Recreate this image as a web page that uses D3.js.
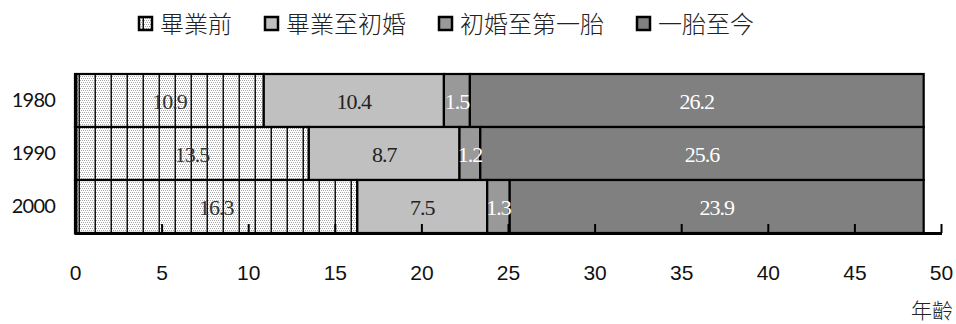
<!DOCTYPE html>
<html><head><meta charset="utf-8">
<script src="https://cdn.jsdelivr.net/npm/d3@7"></script>
<style>
html,body{margin:0;padding:0;background:#fff;}
svg{display:block;}
</style></head>
<body>
<svg id="chart" width="956" height="324"></svg>
<script>
// ---- data ----
const years = ["1980", "1990", "2000"];
const seriesNames = ["畢業前", "畢業至初婚", "初婚至第一胎", "一胎至今"];
const beforeGrad = [10.9, 13.5, 16.3];
const gradToMarriage = [10.4, 8.7, 7.5];
const marriageToFirst = [1.5, 1.2, 1.3];
const firstToNow = [26.2, 25.6, 23.9];
const xTicks = [0, 5, 10, 15, 20, 25, 30, 35, 40, 45, 50];
const xAxisTitle = "年齡";

const seriesValues = [beforeGrad, gradToMarriage, marriageToFirst, firstToNow];
const fills = ["url(#vstripe)", "#c0c0c0", "#999999", "#808080"];
const labelColors = ["#333", "#222", "#fff", "#fff"];

const svg = d3.select("#chart");
const x = d3.scaleLinear().domain([0, 50]).range([75, 941]);
const y = d3.scaleBand().domain(years).range([74, 233]).padding(0);

// pattern: light stipple with vertical black lines
const defs = svg.append("defs");
const pat = defs.append("pattern").attr("id", "vstripe")
  .attr("patternUnits", "userSpaceOnUse").attr("width", 16).attr("height", 4);
pat.append("rect").attr("width", 16).attr("height", 4).attr("fill", "#fff");
for (let i = 0; i < 16; i += 2) {
  pat.append("rect").attr("x", i).attr("y", 0).attr("width", 1).attr("height", 1).attr("fill", "#a8a8a8");
  pat.append("rect").attr("x", i + 1).attr("y", 2).attr("width", 1).attr("height", 1).attr("fill", "#a8a8a8");
}
pat.append("rect").attr("x", 14.5).attr("y", 0).attr("width", 1.5).attr("height", 4).attr("fill", "#111");

// stacked data
const stacked = years.map((yr, i) => {
  let acc = 0;
  return seriesValues.map((arr, s) => {
    const d = {year: yr, s, v: arr[i], x0: acc, x1: acc + arr[i]};
    acc += arr[i];
    return d;
  });
});

const rows = svg.append("g").selectAll("g").data(stacked).join("g");
rows.selectAll("rect").data(d => d).join("rect")
  .attr("x", d => x(d.x0))
  .attr("y", d => y(d.year))
  .attr("width", d => x(d.x1) - x(d.x0))
  .attr("height", y.bandwidth())
  .attr("fill", d => fills[d.s])
  .attr("stroke", "#000")
  .attr("stroke-width", 2.2);

rows.selectAll("text").data(d => d).join("text")
  .attr("x", d => (x(d.x0) + x(d.x1)) / 2)
  .attr("y", d => y(d.year) + y.bandwidth() / 2 + 8)
  .attr("text-anchor", "middle")
  .attr("font-family", "'Liberation Serif', 'Times New Roman', serif")
  .attr("font-size", 22)
  .attr("letter-spacing", -1)
  .attr("fill", d => labelColors[d.s])
  .text(d => d.v.toFixed(1));

// x axis
const xAxis = d3.axisBottom(x).tickValues(xTicks).tickSizeInner(-9).tickSizeOuter(0).tickPadding(32);
const gx = svg.append("g").attr("transform", "translate(0,233)").call(xAxis);
gx.select(".domain").remove();
gx.selectAll(".tick line").attr("stroke", "#000").attr("stroke-width", 2);
gx.selectAll(".tick text")
  .attr("font-family", "'Liberation Sans Narrow', 'Arial Narrow', 'Liberation Sans', sans-serif")
  .attr("font-size", 21).attr("fill", "#111");
svg.append("line").attr("x1", 76).attr("x2", x(50) + 1).attr("y1", 233.5).attr("y2", 233.5)
  .attr("stroke", "#000").attr("stroke-width", 3);

// y axis
const yAxis = d3.axisLeft(y).tickSize(0).tickPadding(21);
const gy = svg.append("g").attr("transform", "translate(76,0)").call(yAxis);
gy.select(".domain").remove();
gy.selectAll(".tick text")
  .attr("font-family", "Lato, 'Liberation Sans', sans-serif")
  .attr("font-size", 20).attr("letter-spacing", -0.8).attr("fill", "#111");
svg.append("line").attr("x1", 76).attr("x2", 76).attr("y1", 73).attr("y2", 235)
  .attr("stroke", "#000").attr("stroke-width", 3);

// x axis title
svg.append("text").attr("x", 953).attr("y", 318).attr("text-anchor", "end")
  .attr("font-family", "'Noto Sans CJK TC', sans-serif").attr("font-weight", 300)
  .attr("font-size", 21).attr("fill", "#222").text(xAxisTitle);

// legend
const legend = svg.append("g");
let lx = 138;
seriesNames.forEach((name, i) => {
  legend.append("rect").attr("x", lx + 1).attr("y", 17).attr("width", 13).attr("height", 13)
    .attr("fill", fills[i]).attr("stroke", "#000").attr("stroke-width", 2.5);
  const t = legend.append("text").attr("x", lx + 22).attr("y", 33)
    .attr("font-family", "'Noto Sans CJK TC', sans-serif").attr("font-weight", 300)
    .attr("font-size", 24).attr("fill", "#222").text(name);
  lx = lx + 22 + t.node().getComputedTextLength() + 32;
});
</script>
</body></html>
